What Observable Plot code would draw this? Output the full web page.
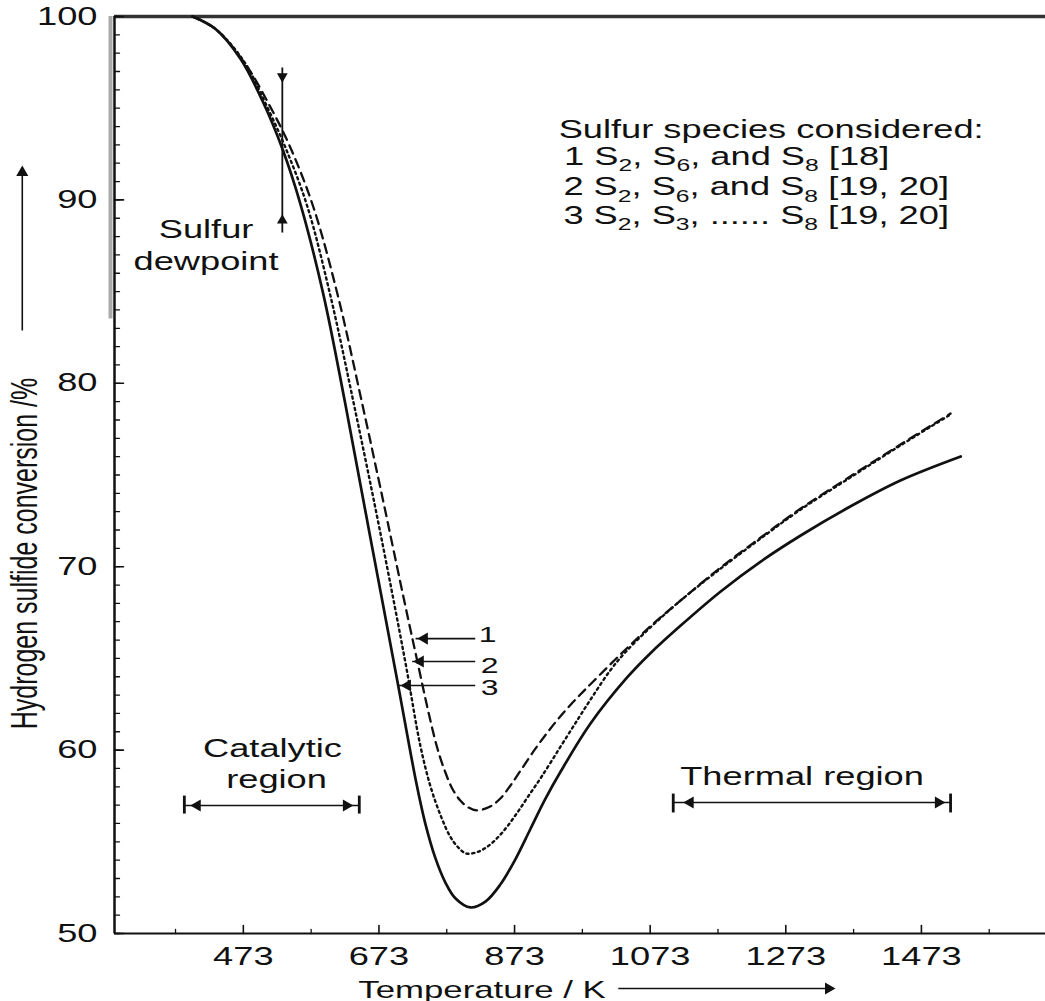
<!DOCTYPE html>
<html>
<head>
<meta charset="utf-8">
<script src="https://cdn.jsdelivr.net/npm/d3@7"></script>
<script src="https://cdn.jsdelivr.net/npm/@observablehq/plot@0.6"></script>
<style>
  html, body { margin: 0; padding: 0; background: #fff; }
  #chart svg { display: block; }
</style>
</head>
<body>
<div id="chart"></div>
<script>
// ---------- data (Temperature / K, H2S conversion / %) ----------
// curve 1 : S2, S6, S8 [18]        (dashed)
const temp1 = [398, 432, 476, 510, 541, 576, 612, 646, 675, 722, 758, 771, 781, 793, 805, 817, 837, 852, 867, 882, 904, 926, 948, 970, 989, 1029, 1073, 1118, 1177, 1236, 1295, 1368, 1442, 1516];
const conv1 = [100, 99.32, 97.41, 95.26, 92.97, 89.64, 84.84, 79.28, 74.32, 66.14, 60.25, 58.78, 57.91, 57.25, 56.87, 56.71, 56.92, 57.36, 58.07, 58.89, 60.09, 61.18, 62.16, 63.03, 63.74, 65.21, 66.74, 68.16, 69.96, 71.59, 73.17, 74.92, 76.66, 78.35];
// curve 2 : S2, S6, S8 [19, 20]    (dotted)
const temp2 = [398, 432, 473, 505, 535, 567, 601, 638, 675, 712, 734, 749, 764, 778, 790, 802, 820, 837, 855, 874, 893, 913, 941, 967, 989, 1014, 1036, 1073, 1118, 1177, 1236, 1295, 1368, 1442, 1516];
const conv2 = [100, 99.32, 97.60, 95.32, 92.86, 89.69, 84.84, 78.52, 71.86, 64.78, 60.25, 58.02, 56.43, 55.29, 54.69, 54.36, 54.47, 54.85, 55.51, 56.43, 57.47, 58.56, 60.20, 61.72, 62.98, 64.34, 65.32, 66.68, 68.16, 69.90, 71.54, 73.12, 74.86, 76.61, 78.30];
// curve 3 : S2, S3, ... S8 [19, 20] (solid)
const temp3 = [398, 432, 469, 501, 531, 557, 591, 623, 660, 700, 728, 741, 756, 771, 786, 808, 830, 852, 874, 896, 918, 941, 985, 1039, 1073, 1118, 1177, 1236, 1295, 1368, 1442, 1531];
const conv3 = [100, 99.32, 97.68, 95.42, 92.75, 89.80, 84.85, 78.95, 71.65, 63.80, 58.23, 56.05, 54.14, 52.78, 51.91, 51.42, 51.74, 52.67, 54.03, 55.67, 57.31, 58.83, 61.45, 63.96, 65.27, 66.79, 68.65, 70.28, 71.70, 73.28, 74.70, 76.01];

// ---------- axes ----------
const xDomain = [283, 1656];
const yDomain = [50, 100];
const xMajorTicks = [473, 673, 873, 1073, 1273, 1473];
const xMinorTicks = [373, 573, 773, 973, 1173, 1373, 1573];
const yMajorTicks = [50, 60, 70, 80, 90, 100];
const yMinorTicks = d3.range(50, 101, 1);
const xTitle = ["Temperature / K"];
const yTitle = ["Hydrogen sulfide conversion /%"];
const xTitlePos = {T: 825, v: 46.51};
const xTitleArrow = {T1: 1026, T2: 1336, v: 47.0};
const yTitlePos = {T: 151, v: 70.72};
const yTitleArrow = {T: 147, v1: 82.88, v2: 91.49};
const scanBand = {v1: 83.5, v2: 100};

// ---------- annotations (data coordinates) ----------
const legendLines = ["Sulfur species considered:", "1 S_2, S_6, and S_8 [18]", "2 S_2, S_6, and S_8 [19, 20]", "3 S_2, S_3, ...... S_8 [19, 20]"];
const legendT = [938, 946, 945, 945];
const legendV = [93.40, 91.88, 90.24, 88.71];

const dewLabel = ["Sulfur", "dewpoint"];
const dewLabelT = [418, 418];
const dewLabelV = [87.9, 86.2];
const dewT = 530.5;
const dewSpan = [97.22, 88.22];
const dewHeadV = [96.73, 88.88];
const dewHeadDir = [180, 0];

const curveIds = ["1", "2", "3"];
const idTextT = [820, 823, 823];
const idTextV = [65.87, 64.23, 62.98];
const pointerFromT = [815, 815, 815];
const pointerTipT = [727, 722, 702];
const pointerV = [66.08, 64.83, 63.52];
const pointerHeadT = [740, 734, 715];

const regionNames = [["Catalytic", "region"], ["Thermal region"]];
const regionTextT = [[516, 522], [1297]];
const regionTextV = [[59.60, 57.96], [58.07]];
const regionFromT = [386, 1107];
const regionToT = [644, 1516];
const regionV = [56.98, 57.14];
const regionBarHi = [57.52, 57.63];
const regionBarLo = [56.54, 56.60];
const regionHeadT = [[405, 625], [1132, 1498]];

// ---------- tables built from the arrays ----------
const rows = (id, T, V) => T.map((t, i) => ({curve: id, T: t, v: V[i]}));
const curves = [...rows("1", temp1, conv1), ...rows("2", temp2, conv2), ...rows("3", temp3, conv3)];
const legendRows = legendLines.map((s, i) => ({s, T: legendT[i], v: legendV[i]}));
const dewRows = dewLabel.map((s, i) => ({s, T: dewLabelT[i], v: dewLabelV[i]}));
const dewHeads = dewHeadV.map((v, i) => ({T: dewT, v, r: dewHeadDir[i]}));
const idRows = curveIds.map((s, i) => ({s, T: idTextT[i], v: idTextV[i]}));
const pointerRows = curveIds.map((s, i) => ({T1: pointerFromT[i], T2: pointerTipT[i], v: pointerV[i], H: pointerHeadT[i]}));
const regionTexts = regionNames.flatMap((arr, k) => arr.map((s, j) => ({s, T: regionTextT[k][j], v: regionTextV[k][j]})));
const regionLines = regionFromT.map((t, i) => ({T1: t, T2: regionToT[i], v: regionV[i]}));
const regionBars = regionFromT.flatMap((t, i) => [t, regionToT[i]].map(T => ({T, hi: regionBarHi[i], lo: regionBarLo[i]})));
const regionHeads = regionHeadT.flatMap((pair, i) => pair.map((T, j) => ({T, v: regionV[i], r: j === 0 ? -90 : 90})));

const ink = "#111";
const font = "'Liberation Sans', Arial, Helvetica, sans-serif";
const tickShape = {draw(context, l) { context.moveTo(0, 0); context.lineTo(0, -l); }};
const fmt = d => String(d);

const svg = Plot.plot({
  width: 1045,
  height: 1001,
  marginTop: 16,
  marginRight: 0,
  marginBottom: 68,
  marginLeft: 114,
  x: {domain: xDomain},
  y: {domain: yDomain},
  style: {fontFamily: font, fontSize: "25px", color: ink, background: "#fff", overflow: "visible"},
  marks: [
    // frame
    Plot.ruleX([scanBand], {x: () => xDomain[0], y1: "v1", y2: "v2", dx: -4, stroke: "#aaa", strokeWidth: 4}),
    Plot.ruleY([yDomain[1]], {stroke: "#333", strokeWidth: 3.5}),
    Plot.ruleY([yDomain[0]], {stroke: ink, strokeWidth: 2}),
    Plot.ruleX([xDomain[0]], {y1: yDomain[0], y2: yDomain[1], stroke: ink, strokeWidth: 2.5}),
    // inward ticks
    Plot.vector(yMinorTicks, {x: () => xDomain[0], y: d => d, length: 5, rotate: 90, anchor: "start", shape: tickShape, stroke: ink, strokeWidth: 1.3}),
    Plot.vector(yMajorTicks, {x: () => xDomain[0], y: d => d, length: 9, rotate: 90, anchor: "start", shape: tickShape, stroke: ink, strokeWidth: 1.6}),
    Plot.vector(xMinorTicks, {x: d => d, y: () => yDomain[0], length: 4, rotate: 0, anchor: "start", shape: tickShape, stroke: ink, strokeWidth: 1.3}),
    Plot.vector(xMajorTicks, {x: d => d, y: () => yDomain[0], length: 8, rotate: 0, anchor: "start", shape: tickShape, stroke: ink, strokeWidth: 1.6}),
    // tick labels
    Plot.axisY(yMajorTicks, {tickSize: 0, tickPadding: 17, label: null, fontSize: 25, fill: ink, tickFormat: fmt}),
    Plot.axisX(xMajorTicks, {tickSize: 0, tickPadding: 14, label: null, fontSize: 25, fill: ink, tickFormat: fmt}),
    // axis titles + arrows
    Plot.text(xTitle, {x: () => xTitlePos.T, y: () => xTitlePos.v, text: d => d, textAnchor: "middle", lineAnchor: "bottom", fontSize: 24, fill: ink}),
    Plot.link([xTitleArrow], {x1: "T1", x2: "T2", y1: "v", y2: "v", stroke: ink, strokeWidth: 1.6}),
    Plot.dot([xTitleArrow], {x: "T2", y: "v", symbol: "triangle", r: 4.5, rotate: 90, fill: ink, stroke: "none"}),
    Plot.text(yTitle, {x: () => yTitlePos.T, y: () => yTitlePos.v, text: d => d, rotate: -90, textAnchor: "middle", fontSize: 25, fill: ink}),
    Plot.link([yTitleArrow], {x1: "T", x2: "T", y1: "v1", y2: "v2", stroke: ink, strokeWidth: 1.6}),
    Plot.dot([yTitleArrow], {x: "T", y: "v2", symbol: "triangle", r: 4.5, rotate: 0, fill: ink, stroke: "none"}),
    // curves
    Plot.line(curves, {filter: d => d.curve === "1", x: "T", y: "v", stroke: ink, strokeWidth: 2.3, strokeDasharray: "9,6", curve: "catmull-rom"}),
    Plot.line(curves, {filter: d => d.curve === "2", x: "T", y: "v", stroke: ink, strokeWidth: 2.4, strokeDasharray: "2.2,3.6", curve: "catmull-rom"}),
    Plot.line(curves, {filter: d => d.curve === "3", x: "T", y: "v", stroke: ink, strokeWidth: 2.7, curve: "catmull-rom"}),
    // legend block
    Plot.text(legendRows, {x: "T", y: "v", text: "s", textAnchor: "start", lineAnchor: "bottom", fontSize: 25, fill: ink}),
    // sulfur dewpoint
    Plot.link([dewSpan], {x1: () => dewT, x2: () => dewT, y1: d => d[0], y2: d => d[1], stroke: ink, strokeWidth: 1.8}),
    Plot.dot(dewHeads, {x: "T", y: "v", rotate: "r", symbol: "triangle", r: 4, fill: ink, stroke: "none"}),
    Plot.text(dewRows, {x: "T", y: "v", text: "s", textAnchor: "middle", lineAnchor: "bottom", fontSize: 25, fill: ink}),
    // curve id pointers
    Plot.link(pointerRows, {x1: "T1", x2: "T2", y1: "v", y2: "v", stroke: ink, strokeWidth: 1.6}),
    Plot.dot(pointerRows, {x: "H", y: "v", symbol: "triangle", r: 4.5, rotate: -90, fill: ink, stroke: "none"}),
    Plot.text(idRows, {x: "T", y: "v", text: "s", textAnchor: "start", lineAnchor: "bottom", fontSize: 22, fill: ink}),
    // regions
    Plot.link(regionLines, {x1: "T1", x2: "T2", y1: "v", y2: "v", stroke: ink, strokeWidth: 1.6}),
    Plot.link(regionBars, {x1: "T", x2: "T", y1: "hi", y2: "lo", stroke: ink, strokeWidth: 2.8}),
    Plot.dot(regionHeads, {x: "T", y: "v", rotate: "r", symbol: "triangle", r: 4.5, fill: ink, stroke: "none"}),
    Plot.text(regionTexts, {x: "T", y: "v", text: "s", textAnchor: "middle", lineAnchor: "bottom", fontSize: 25, fill: ink})
  ]
});

// subscripts ("S_2" -> S with a lowered small 2)
const NS = "http://www.w3.org/2000/svg";
svg.querySelectorAll("text").forEach(t => {
  const s = t.textContent;
  if (!s.includes("_")) return;
  const parts = s.split(/_(\d)/);
  t.textContent = "";
  parts.forEach((p, i) => {
    if (!p) return;
    const ts = document.createElementNS(NS, "tspan");
    ts.textContent = p;
    if (i % 2 === 1) { ts.setAttribute("font-size", "17"); ts.setAttribute("dy", "6"); }
    else if (i > 0) ts.setAttribute("dy", "-6");
    t.appendChild(ts);
  });
});
// the original lettering is horizontally widened
const SX = 1.45;
svg.querySelectorAll("text").forEach(t => {
  const tr = t.getAttribute("transform") || "";
  const rotated = /rotate\(\s*-?90/.test(tr);
  if (t.hasAttribute("x") && !rotated) t.setAttribute("x", (+t.getAttribute("x") || 0) / SX);
  t.setAttribute("transform", tr + (rotated ? ` scale(1,${SX})` : ` scale(${SX},1)`));
});

document.getElementById("chart").appendChild(svg);
</script>
</body>
</html>
